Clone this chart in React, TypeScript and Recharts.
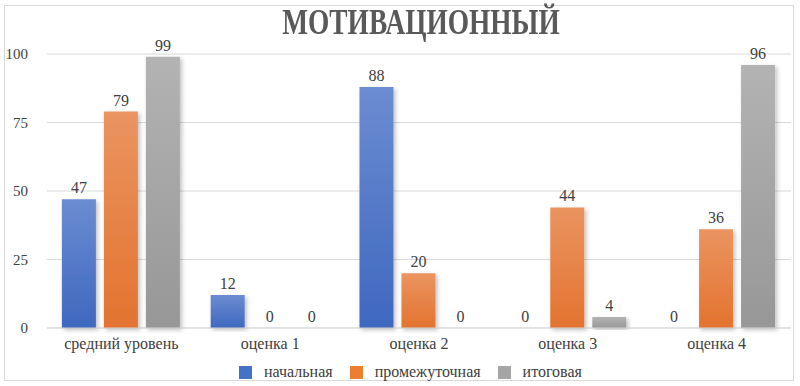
import { Bar, BarChart, CartesianGrid, LabelList, XAxis, YAxis } from "recharts";

const categories = ["средний уровень", "оценка 1", "оценка 2", "оценка 3", "оценка 4"];
const initial = [47, 12, 88, 0, 0];
const intermediate = [79, 0, 20, 44, 36];
const final = [99, 0, 0, 4, 96];
const yTicks = [0, 25, 50, 75, 100];

const seriesNames = {
  initial: "начальная",
  intermediate: "промежуточная",
  final: "итоговая",
};

const data = categories.map((name, i) => ({
  name,
  initial: initial[i],
  intermediate: intermediate[i],
  final: final[i],
}));

const colors = {
  blue: "#4472c4",
  orange: "#ed7d31",
  gray: "#a5a5a5",
  grid: "#d9d9d9",
  text: "#404040",
  title: "#595959",
};

const font = '"Liberation Serif", "Times New Roman", serif';

const legendItems = [
  { name: seriesNames.initial, color: colors.blue },
  { name: seriesNames.intermediate, color: colors.orange },
  { name: seriesNames.final, color: colors.gray },
];

// recharts drops zero-height rects (and their labels), so nudge zeros a hair above 0
const barValue = (key: "initial" | "intermediate" | "final") => (d: any) =>
  d[key] === 0 ? 0.001 : d[key];

const ValueLabel = (props: any) => {
  const { x, y, width, value } = props;
  if (value === undefined || value === null) return null;
  return (
    <text
      x={Number(x) + Number(width) / 2}
      y={Number(y) - 6}
      textAnchor="middle"
      fill={colors.text}
      fontSize={16}
      fontFamily={font}
    >
      {Math.round(Number(value))}
    </text>
  );
};

export default function App() {
  return (
    <div
      style={{
        position: "absolute",
        top: 0,
        left: 0,
        width: 800,
        height: 386,
        background: "#fff",
        fontFamily: font,
      }}
    >
      <div
        style={{
          position: "absolute",
          left: 4,
          top: 5,
          width: 788,
          height: 374,
          border: `1.5px solid ${colors.grid}`,
        }}
      />
      <div
        style={{
          position: "absolute",
          top: 4,
          left: 21,
          width: 800,
          textAlign: "center",
          fontSize: 36,
          fontWeight: 700,
          color: colors.title,
          lineHeight: "36px",
          transform: "scaleX(0.76)",
        }}
      >
        МОТИВАЦИОННЫЙ
      </div>
      <BarChart
        width={800}
        height={386}
        data={data}
        margin={{ top: 54, right: 9, left: 0, bottom: 0 }}
        barCategoryGap="10%"
        barGap={8}
        style={{ position: "absolute", top: 0, left: 0 }}
      >
        <defs>
          <linearGradient id="gBlue" x1="0" y1="0" x2="0" y2="1">
            <stop offset="0%" stopColor="#6b8cd1" />
            <stop offset="100%" stopColor="#3f68bf" />
          </linearGradient>
          <linearGradient id="gOrange" x1="0" y1="0" x2="0" y2="1">
            <stop offset="0%" stopColor="#ea9460" />
            <stop offset="100%" stopColor="#e3732f" />
          </linearGradient>
          <linearGradient id="gGray" x1="0" y1="0" x2="0" y2="1">
            <stop offset="0%" stopColor="#b3b3b3" />
            <stop offset="100%" stopColor="#979797" />
          </linearGradient>
          <filter id="shadow" x="-20%" y="-5%" width="150%" height="115%">
            <feDropShadow dx="2" dy="2" stdDeviation="2" floodColor="#000" floodOpacity="0.25" />
          </filter>
        </defs>
        <CartesianGrid stroke={colors.grid} vertical={false} />
        <XAxis
          dataKey="name"
          height={58}
          axisLine={{ stroke: colors.grid }}
          tickLine={false}
          tickSize={0}
          tickMargin={10}
          interval={0}
          tick={{ fill: colors.text, fontSize: 16, fontFamily: font }}
        />
        <YAxis
          width={47}
          domain={[0, 100]}
          ticks={yTicks}
          axisLine={false}
          tickLine={false}
          tickSize={0}
          tickMargin={19}
          tick={{ fill: colors.text, fontSize: 15, fontFamily: font }}
        />
        <Bar dataKey={barValue("initial")} name={seriesNames.initial} fill="url(#gBlue)" filter="url(#shadow)" isAnimationActive={false}>
          <LabelList dataKey="initial" content={ValueLabel} />
        </Bar>
        <Bar dataKey={barValue("intermediate")} name={seriesNames.intermediate} fill="url(#gOrange)" filter="url(#shadow)" isAnimationActive={false}>
          <LabelList dataKey="intermediate" content={ValueLabel} />
        </Bar>
        <Bar dataKey={barValue("final")} name={seriesNames.final} fill="url(#gGray)" filter="url(#shadow)" isAnimationActive={false}>
          <LabelList dataKey="final" content={ValueLabel} />
        </Bar>
      </BarChart>
      <div
        style={{
          position: "absolute",
          top: 362,
          left: 239,
          display: "flex",
          alignItems: "center",
          fontSize: 16,
          color: colors.text,
          lineHeight: "20px",
        }}
      >
        {legendItems.map((item, i) => (
          <div key={item.name} style={{ display: "flex", alignItems: "center", marginRight: i < 2 ? 17 : 0 }}>
            <span style={{ width: 13, height: 13, background: item.color, display: "inline-block", marginRight: 12 }} />
            <span>{item.name}</span>
          </div>
        ))}
      </div>
    </div>
  );
}
